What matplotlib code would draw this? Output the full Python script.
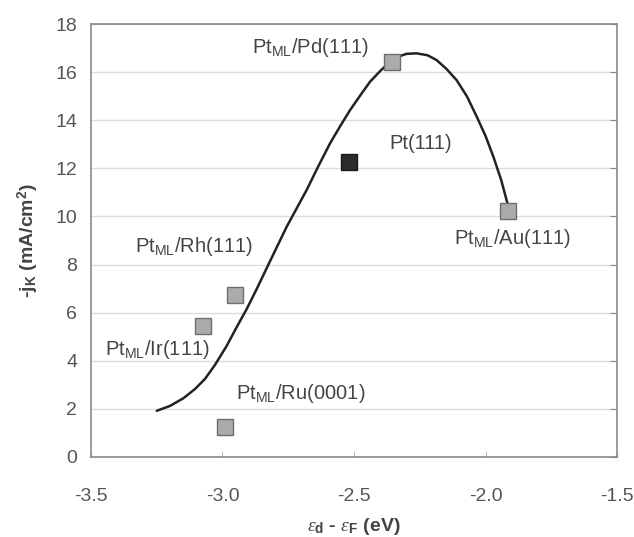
import matplotlib
matplotlib.use('Agg')
from matplotlib import pyplot as plt

plt.rcParams['font.family'] = ['Liberation Sans', 'DejaVu Sans']
plt.rcParams['mathtext.fontset'] = 'custom'
plt.rcParams['mathtext.rm'] = 'Liberation Sans'
plt.rcParams['mathtext.bf'] = 'Liberation Sans:bold'
plt.rcParams['mathtext.it'] = 'Liberation Serif:italic'

# Measured points (d-band centre vs kinetic current)
surfaces = ['Pt$_{\\mathrm{ML}}$/Pd(111)', 'Pt(111)', 'Pt$_{\\mathrm{ML}}$/Au(111)',
            'Pt$_{\\mathrm{ML}}$/Rh(111)', 'Pt$_{\\mathrm{ML}}$/Ir(111)', 'Pt$_{\\mathrm{ML}}$/Ru(0001)']
d_band = [-2.357, -2.518, -1.913, -2.952, -3.073, -2.99]
jk = [16.43, 12.25, 10.24, 6.73, 5.44, 1.23]

# Volcano curve
curve_x = [-3.250, -3.200, -3.149, -3.105, -3.067, -3.029, -2.984, -2.946, -2.908,
           -2.870, -2.832, -2.756, -2.680, -2.635, -2.591, -2.550, -2.515, -2.475,
           -2.439, -2.400, -2.363, -2.330, -2.300, -2.262, -2.220, -2.186, -2.150,
           -2.110, -2.070, -2.033, -2.000, -1.970, -1.940, -1.913]
curve_y = [1.92, 2.12, 2.44, 2.82, 3.24, 3.82, 4.62, 5.40, 6.15,
           6.98, 7.85, 9.57, 11.10, 12.10, 13.04, 13.80, 14.42, 15.05,
           15.60, 16.05, 16.43, 16.65, 16.76, 16.78, 16.70, 16.50, 16.15,
           15.67, 14.98, 14.14, 13.35, 12.48, 11.50, 10.40]

# label anchor positions (centre of text)
label_x = [-2.667, -2.245, -1.899, -3.108, -3.249, -2.702]
label_y = [17.04, 13.05, 9.10, 8.73, 4.45, 2.66]

fig = plt.figure(figsize=(6.34, 5.37), dpi=100)
ax = fig.add_axes([0.1435, 0.149, 0.8297, 0.8063])

ax.plot(curve_x, curve_y, c='#222222', lw=1.8, zorder=3,
        solid_joinstyle='round', solid_capstyle='round')

for i in range(len(surfaces)):
    if surfaces[i] == 'Pt(111)':
        face, edge = '#2b2b2b', '#1a1a1a'
    else:
        face, edge = '#ababab', '#6e6e6e'
    ax.plot(d_band[i], jk[i], marker='s', ms=11, mfc=face, mec=edge, mew=1.0,
            ls='none', zorder=4)
    ax.text(label_x[i], label_y[i], surfaces[i], ha='center', va='center',
            fontsize=14.5, color='#444444', zorder=5)

ax.set_xlim(-3.5, -1.5)
ax.set_ylim(0, 18)
ax.set_xticks([-3.5, -3.0, -2.5, -2.0, -1.5])
ax.set_xticklabels(['-3.5', '-3.0', '-2.5', '-2.0', '-1.5'])
ax.set_yticks(range(0, 19, 2))

ax.grid(axis='y', color='#dcdcdc', lw=1.0)
ax.set_axisbelow(True)
for s in ax.spines.values():
    s.set_color('#8a8a8a')
    s.set_linewidth(1.2)

ax.tick_params(axis='y', left=False, right=True, direction='in', length=5,
               color='#8a8a8a', labelsize=14, labelcolor='#555555', pad=10)
ax.tick_params(axis='x', direction='in', length=4, color='#bbbbbb',
               labelsize=14, labelcolor='#555555', pad=22)

ax.set_ylabel('-j$_\\mathbf{K}$ (mA/cm$^\\mathbf{2}$)', fontsize=14,
              fontweight='bold', color='#444444', labelpad=10)
ax.set_xlabel('$\\varepsilon_\\mathbf{d}$ - $\\varepsilon_\\mathbf{F}$ (eV)', fontsize=14,
              fontweight='bold', color='#444444', labelpad=8)

fig.savefig('out.png', dpi=100)
